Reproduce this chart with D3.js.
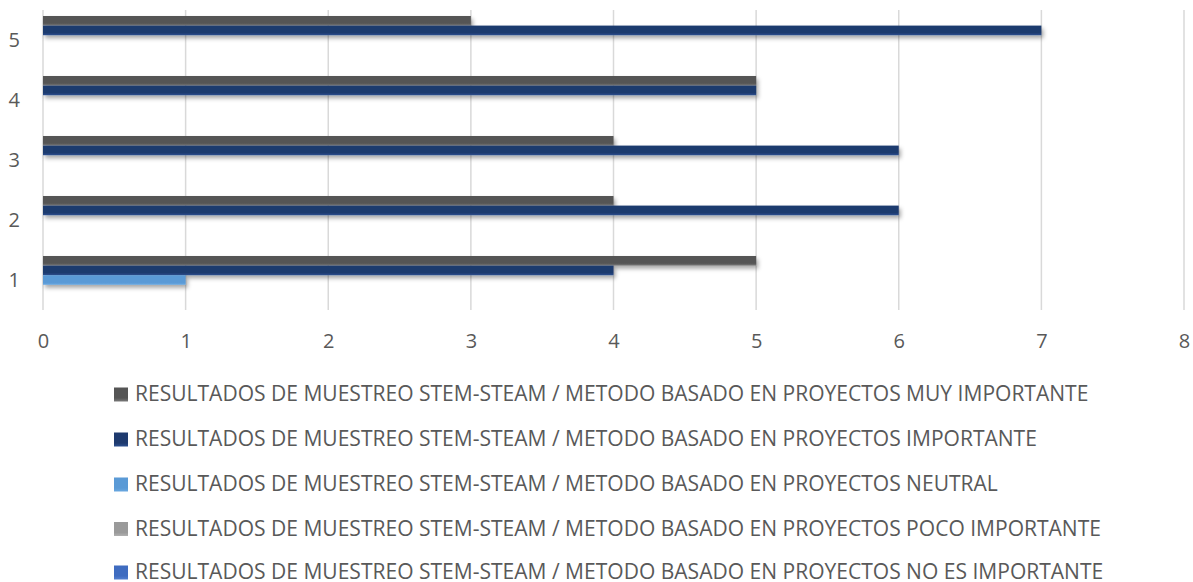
<!DOCTYPE html>
<html><head><meta charset="utf-8">
<script src="https://cdn.jsdelivr.net/npm/d3@7"></script>
<style>body{margin:0;background:#fff}svg{display:block}</style>
</head><body>
<svg id="c" width="1193" height="582"></svg>
<script>
const categories = ["1","2","3","4","5"];
const seriesNames = [
  "RESULTADOS DE MUESTREO STEM-STEAM / METODO BASADO EN PROYECTOS MUY IMPORTANTE",
  "RESULTADOS DE MUESTREO STEM-STEAM / METODO BASADO EN PROYECTOS IMPORTANTE",
  "RESULTADOS DE MUESTREO STEM-STEAM / METODO BASADO EN PROYECTOS NEUTRAL",
  "RESULTADOS DE MUESTREO STEM-STEAM / METODO BASADO EN PROYECTOS POCO IMPORTANTE",
  "RESULTADOS DE MUESTREO STEM-STEAM / METODO BASADO EN PROYECTOS NO ES IMPORTANTE"
];
const muyImportante = [5,4,4,5,3];
const importante    = [4,6,6,5,7];
const neutral       = [1,0,0,0,0];
const pocoImportante= [0,0,0,0,0];
const noEsImportante= [0,0,0,0,0];
const xTicks = [0,1,2,3,4,5,6,7,8];
const seriesValues = [muyImportante, importante, neutral, pocoImportante, noEsImportante];
const colors = [["#555555","#7a7a7a"],["#1e3a6e","#2d5090"],["#5a9ad6","#6aa8e0"],["#9a9a9a","#b0b0b0"],["#3f6cc0","#5580d0"]];

const svg = d3.select("#c");
const font = "'Open Sans', sans-serif";
const defs = svg.append("defs");
defs.append("filter").attr("id","sh").attr("x","-5%").attr("y","-50%").attr("width","110%").attr("height","250%")
  .append("feDropShadow").attr("dx",2).attr("dy",3).attr("stdDeviation",2.2).attr("flood-color","#000").attr("flood-opacity",0.35);
colors.forEach((c,i)=>{
  const g = defs.append("linearGradient").attr("id","g"+i).attr("x1",0).attr("y1",0).attr("x2",0).attr("y2",1);
  g.append("stop").attr("offset","0%").attr("stop-color",c[0]);
  g.append("stop").attr("offset","75%").attr("stop-color",c[0]);
  g.append("stop").attr("offset","100%").attr("stop-color",c[1]);
});

const x = d3.scaleLinear().domain([0,8]).range([43,1184]);
const y = d3.scaleBand().domain(categories.slice().reverse()).range([10,310]).paddingInner(0.2).paddingOuter(0.1);
const yi = d3.scaleBand().domain(d3.range(seriesNames.length)).range([0,y.bandwidth()]);

// grid
svg.append("g").selectAll("line").data(xTicks).join("line")
  .attr("x1",d=>x(d)).attr("x2",d=>x(d)).attr("y1",10).attr("y2",310)
  .attr("stroke","#d9d9d9").attr("stroke-width",1.5);

// bars
const gb = svg.append("g");
seriesValues.forEach((vals,si)=>{
  gb.append("g").selectAll("rect").data(categories.map((c,i)=>({c,v:vals[i]})).filter(d=>d.v>0)).join("rect")
    .attr("x",x(0)).attr("y",d=>y(d.c)+yi(si))
    .attr("width",d=>x(d.v)-x(0)).attr("height",yi.bandwidth())
    .attr("fill","url(#g"+si+")").attr("filter","url(#sh)");
});

// x axis labels
const xa = d3.axisBottom(x).tickValues(xTicks).tickSize(0).tickPadding(0).tickFormat(d3.format("d"));
const gx = svg.append("g").attr("transform","translate(0,348)").call(xa);
gx.select(".domain").remove();
gx.selectAll("text").attr("font-family",font).attr("font-size",20).attr("fill","#595959").attr("dy",0);

// y axis labels
const ya = d3.axisLeft(y).tickSize(0).tickPadding(0);
const gy = svg.append("g").attr("transform","translate(20,0)").call(ya);
gy.select(".domain").remove();
gy.selectAll("text").attr("font-family",font).attr("font-size",20).attr("fill","#595959").attr("text-anchor","end").attr("dy","0.36em");

// legend
const baselines = [401,446,491,535.5,579];
const lg = svg.append("g");
const items = lg.selectAll("g").data(seriesNames).join("g").attr("transform",(d,i)=>`translate(0,${baselines[i]})`);
items.append("rect").attr("x",114).attr("y",-13.5).attr("width",14).attr("height",14).attr("fill",(d,i)=>`url(#g${i})`);
const texts = items.append("text").attr("x",135).attr("y",0).attr("font-family",font).attr("font-size",20).attr("fill","#595959").text(d=>d);
const w = texts.node().getComputedTextLength();
const fs = 20*954/w;
texts.attr("font-size",fs);
</script>
</body></html>
